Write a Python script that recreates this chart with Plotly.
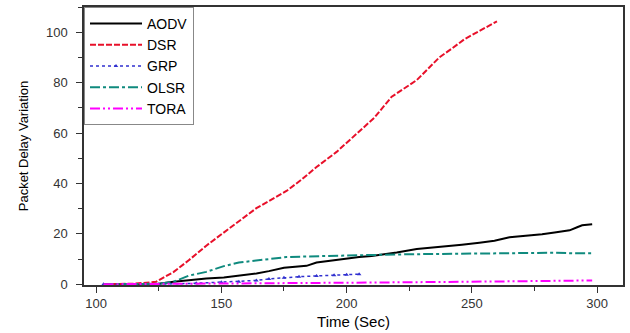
import plotly.graph_objects as go

# ---- data ----
aodv_t = [103, 115, 125, 131, 138, 144, 151, 157, 164, 169, 175, 184, 188, 195, 201, 205, 210, 214, 220, 228, 235, 241, 246, 253, 259, 265, 273, 278, 283, 289, 292, 294, 298]
aodv_v = [0, 0, 0.2, 1.0, 1.8, 2.3, 2.7, 3.4, 4.3, 5.2, 6.5, 7.3, 8.6, 9.5, 10.4, 10.8, 11.2, 11.7, 12.6, 14.0, 14.6, 15.3, 15.7, 16.5, 17.3, 18.6, 19.2, 19.8, 20.5, 21.4, 22.6, 23.4, 23.8]

dsr_t = [103, 110, 115, 120, 124, 131, 137, 144, 151, 157, 164, 169, 176, 182, 188, 196, 204, 211, 218, 224, 228, 233, 237, 242, 247, 253, 260]
dsr_v = [0, 0, 0.2, 0.6, 1.0, 4.9, 9.5, 15.3, 20.5, 25, 30.2, 33, 37, 41.5, 46.5, 52.5, 59.5, 66, 74.4, 78.5, 81, 86, 90, 93.5, 97.2, 100.5, 104.3]

grp_t = [103, 125, 140, 150, 157, 164, 169, 175, 181, 188, 195, 200, 205]
grp_v = [0, 0, 0.4, 0.8, 1.0, 1.5, 2.1, 2.6, 3.0, 3.3, 3.6, 3.8, 4.0]

olsr_t = [103, 120, 125, 131, 137, 144, 151, 157, 164, 170, 176, 183, 190, 200, 214, 225, 241, 260, 275, 283, 290, 298]
olsr_v = [0, 0, 0.2, 1.0, 3.4, 4.9, 7.2, 8.6, 9.5, 10.2, 10.8, 11.0, 11.2, 11.5, 11.7, 11.9, 12.1, 12.3, 12.5, 12.5, 12.3, 12.3]

tora_t = [103, 150, 200, 250, 280, 298]
tora_v = [0, 0.2, 0.6, 1.0, 1.2, 1.5]

x_ticks = [100, 150, 200, 250, 300]
y_ticks = [0, 20, 40, 60, 80, 100]

fig = go.Figure()
fig.add_trace(go.Scatter(x=aodv_t, y=aodv_v, name="AODV", mode="lines",
                         line=dict(color="black", width=2)))
fig.add_trace(go.Scatter(x=dsr_t, y=dsr_v, name="DSR", mode="lines",
                         line=dict(color="#e8102a", width=2, dash="6px,2px")))
fig.add_trace(go.Scatter(x=grp_t, y=grp_v, name="GRP", mode="lines+markers",
                         line=dict(color="#3030d0", width=1.5, dash="dot"),
                         marker=dict(symbol="triangle-up", size=4, color="#3030d0")))
fig.add_trace(go.Scatter(x=olsr_t, y=olsr_v, name="OLSR", mode="lines",
                         line=dict(color="#0f8a7e", width=2, dash="10px,3px,3px,3px")))
fig.add_trace(go.Scatter(x=tora_t, y=tora_v, name="TORA", mode="lines",
                         line=dict(color="#ff00ff", width=2, dash="10px,3px,2px,3px,2px,3px")))

axis_common = dict(
    showline=True, linecolor="#333", linewidth=1.5, mirror=True,
    ticks="outside", ticklen=6, tickcolor="#333", tickwidth=1,
    showgrid=False, zeroline=False,
    tickfont=dict(family="Liberation Sans, Arial", size=13, color="#333"),
)

fig.update_layout(
    width=630, height=333,
    margin=dict(l=84, r=5, t=7, b=43),
    paper_bgcolor="white", plot_bgcolor="white",
    font=dict(family="Liberation Sans, Arial", color="black"),
    legend=dict(x=0, y=1, xanchor="left", yanchor="top",
                bordercolor="#888", borderwidth=1, bgcolor="white",
                font=dict(size=14, color="black"), tracegroupgap=0,
                itemwidth=52),
    showlegend=True,
)
fig.update_xaxes(range=[95.2, 310.3], tickvals=x_ticks,
                 minor=dict(ticks="outside", ticklen=4, dtick=25, tick0=100, tickcolor="#333"),
                 title=dict(text="Time (Sec)", font=dict(size=15), standoff=6),
                 **axis_common)
fig.update_yaxes(range=[-0.3, 110], tickvals=y_ticks, ticklabelstandoff=6,
                 minor=dict(ticks="outside", ticklen=4, dtick=10, tick0=0, tickcolor="#333"),
                 title=dict(text="Packet Delay Variation", font=dict(size=13), standoff=14),
                 **axis_common)

fig.write_html("out.html")
